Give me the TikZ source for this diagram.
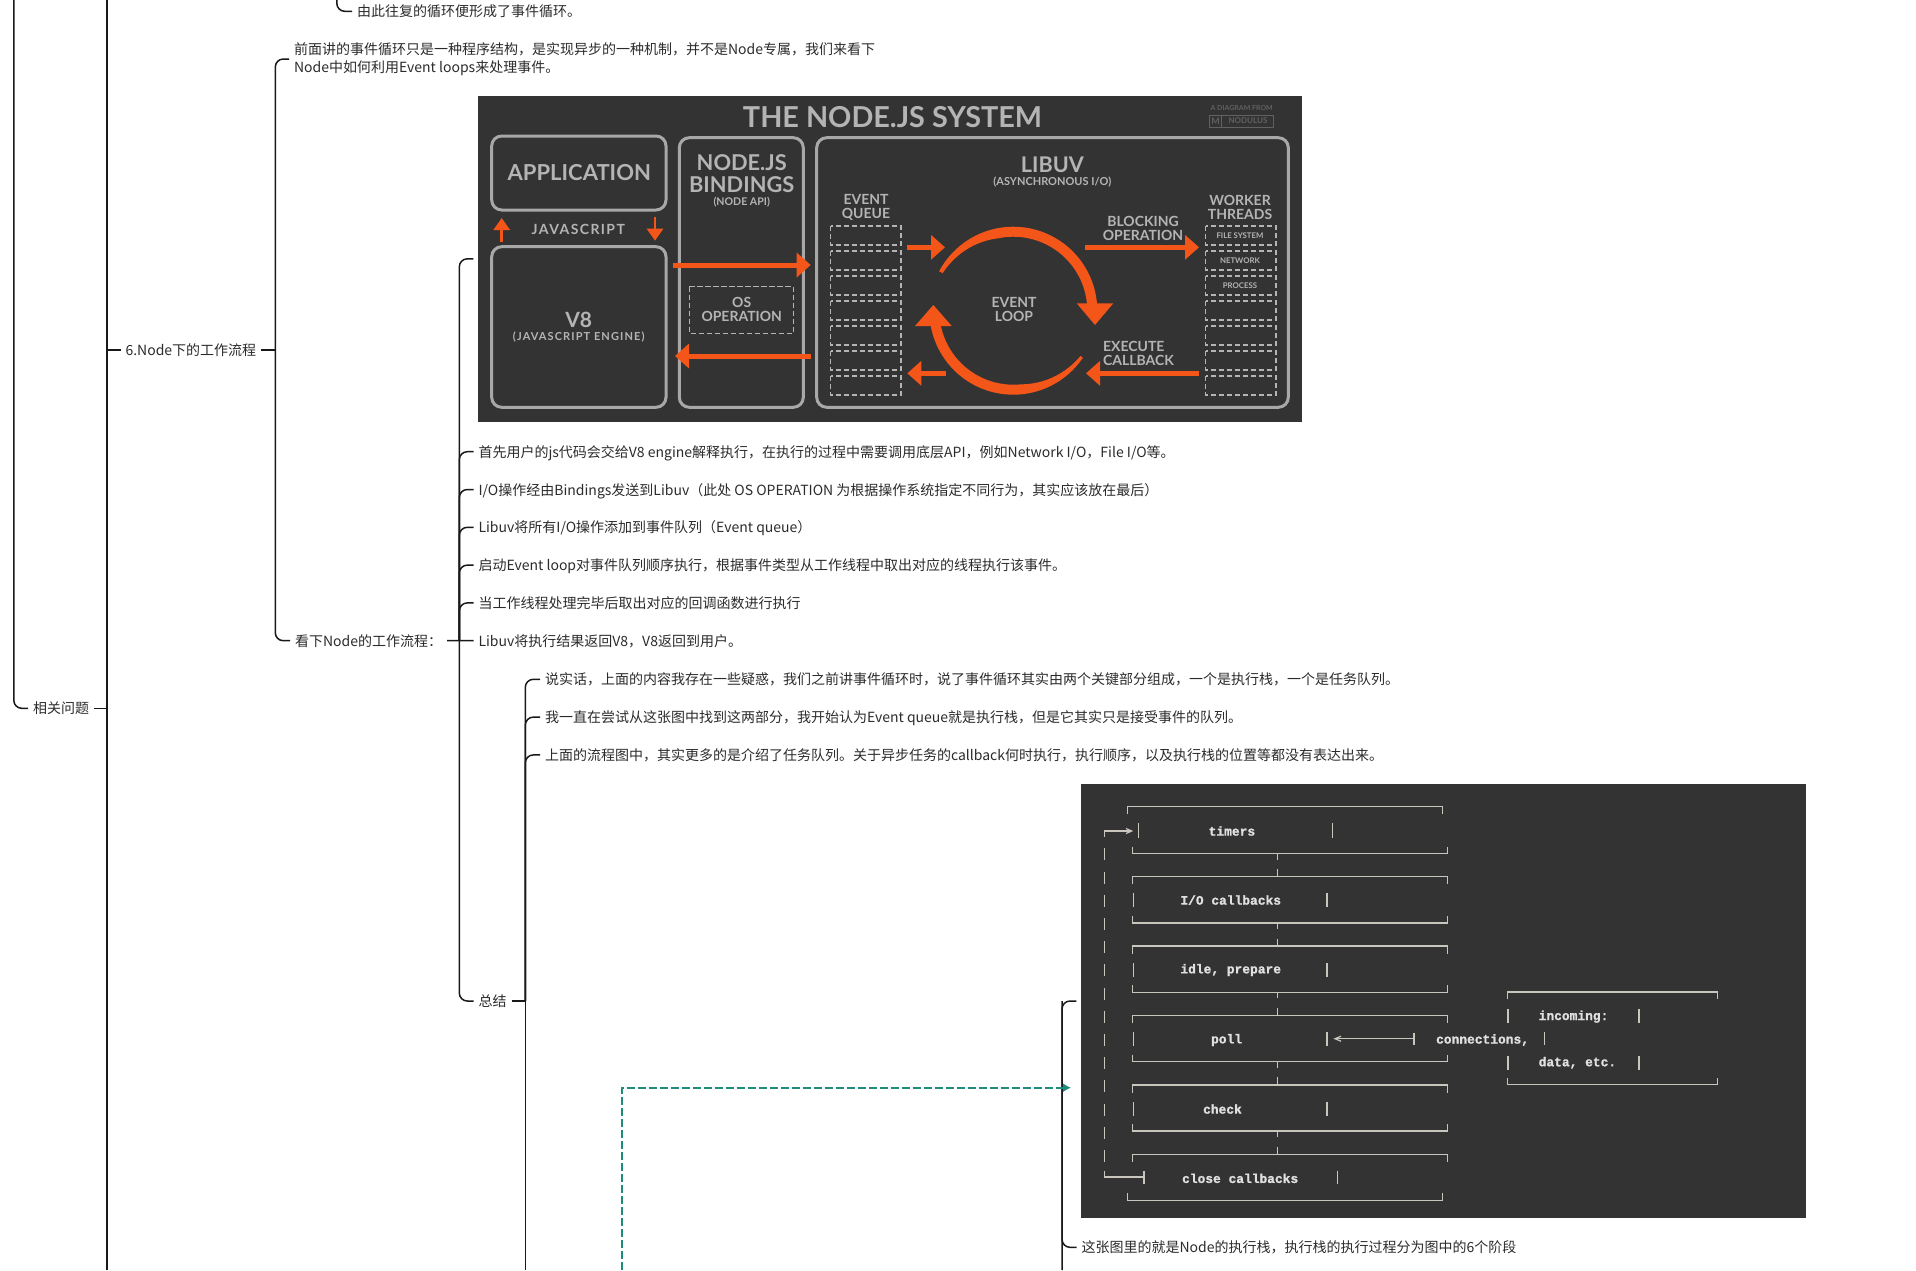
\documentclass[tikz,border=0pt]{standalone}
\usepackage{fontspec}
\setmainfont{Noto Sans CJK SC}
\newfontfamily\sysfont{Lato}[UprightFont=* Bold]
\newfontfamily\syswide{Lato}[UprightFont=* Bold,LetterSpace=10]
\newfontfamily\termfont{Liberation Mono}[UprightFont=* Bold,FakeBold=1.2]
\usetikzlibrary{positioning,arrows.meta}
\definecolor{imgbg}{HTML}{333333}
\definecolor{sysline}{HTML}{A8A8A8}
\definecolor{systext}{HTML}{B4B4B4}
\definecolor{sysorange}{HTML}{F4561A}
\definecolor{termline}{HTML}{C9C7BD}
\definecolor{dashteal}{HTML}{1E8C7B}
\definecolor{inktext}{HTML}{2B2B2B}
\tikzset{
  link/.style={line width=.75pt,draw=black!90,rounded corners=4pt},
  leaf/.style={anchor=west,font=\fontsize{7}{9}\selectfont,text=inktext,inner xsep=0pt,inner ysep=1pt,outer xsep=2.5pt,text height=5.6pt,text depth=0pt},
  para/.style={anchor=west,font=\fontsize{7}{9}\selectfont,text=inktext,inner xsep=0pt,inner ysep=1pt,outer xsep=2.5pt,align=left},
  imgnode/.style={fill=imgbg,inner sep=0pt,outer xsep=2.5pt},
  sysbox/.style={draw=sysline,line width=1.5pt,rounded corners=5pt},
  sysdash/.style={draw=systext,line width=.6pt,dash pattern=on 2.6pt off 1.4pt},
  syscap/.style={text=systext,inner sep=0pt,align=center,font=\sysfont\fontsize{7}{7}\selectfont},
  sysarrow/.style={draw=sysorange,line width=2.5pt,-{Triangle[length=7pt,width=12pt]}},
  smallarrow/.style={draw=sysorange,line width=1.4pt,-{Triangle[length=6pt,width=8pt]}},
  termline/.style={draw=termline,line width=.6pt},
  termtext/.style={anchor=west,text=white!88!black,inner sep=0pt,font=\termfont\fontsize{6.45}{7}\selectfont},
  teallink/.style={draw=dashteal,line width=.9pt,dash pattern=on 4pt off 1.5pt,-{Latex[length=4pt,width=4.5pt]}}
}
\begin{document}
\begin{tikzpicture}[x=.5pt,y=.5pt]
  \useasboundingbox (0,0) rectangle (1916,-1270);

  \coordinate (topa) at (13.8,0);
  \coordinate (topb) at (107,0);
  \coordinate (botb) at (107,-1270);
  \coordinate (topc) at (336.8,0);
  \coordinate (bote) at (525.3,-1270);
  \coordinate (botf) at (1062,-1270);

  \node [leaf] (repeat) at (352,-11.3) {由此往复的循环便形成了事件循环。};
  \node [para] (front) at (289,-59) {前面讲的事件循环只是一种程序结构，是实现异步的一种机制，并不是Node专属，我们来看下\\Node中如何利用Event loops来处理事件。};
  \node [leaf] (n6) at (120.5,-350) {6.Node下的工作流程};
  \node [leaf] (rel) at (28,-708.3) {相关问题};
  \node [leaf] (look) at (290,-640.7) {看下Node的工作流程：};
  \node [imgnode,minimum width=412pt,minimum height=162.8pt] (sysimg) at (890.3,-258.8) {};

  \node [leaf] (b1) at (473.5,-451.7) {首先用户的js代码会交给V8 engine解释执行，在执行的过程中需要调用底层API，例如Network I/O，File I/O等。};
  \node [leaf,below=18.9pt of b1.west,anchor=west] (b2) {I/O操作经由Bindings发送到Libuv（此处 OS OPERATION 为根据操作系统指定不同行为，其实应该放在最后）};
  \node [leaf,below=18.9pt of b2.west,anchor=west] (b3) {Libuv将所有I/O操作添加到事件队列（Event queue）};
  \node [leaf,below=18.9pt of b3.west,anchor=west] (b4) {启动Event loop对事件队列顺序执行，根据事件类型从工作线程中取出对应的线程执行该事件。};
  \node [leaf,below=18.9pt of b4.west,anchor=west] (b5) {当工作线程处理完毕后取出对应的回调函数进行执行};
  \node [leaf,below=18.9pt of b5.west,anchor=west] (b6) {Libuv将执行结果返回V8，V8返回到用户。};
  \node [leaf] (sum) at (473.5,-1001) {总结};

  \node [leaf] (s1) at (540,-679.3) {说实话，上面的内容我存在一些疑惑，我们之前讲事件循环时，说了事件循环其实由两个关键部分组成，一个是执行栈，一个是任务队列。};
  \node [leaf,below=18.9pt of s1.west,anchor=west] (s2) {我一直在尝试从这张图中找到这两部分，我开始认为Event queue就是执行栈，但是它其实只是接受事件的队列。};
  \node [leaf,below=18.9pt of s2.west,anchor=west] (s3) {上面的流程图中，其实更多的是介绍了任务队列。关于异步任务的callback何时执行，执行顺序，以及执行栈的位置等都没有表达出来。};

  \node [imgnode,minimum width=362.2pt,minimum height=216.8pt] (termimg) at (1443.5,-1001) {};
  \node [leaf] (stack) at (1076.5,-1247.3) {这张图里的就是Node的执行栈，执行栈的执行过程分为图中的6个阶段};

  \coordinate (ja) at (13.8,-708.3);
  \coordinate (jn) at (275.3,-350);
  \coordinate (jd) at (459.3,-640.7);
  \coordinate (je) at (525.3,-1001);
  \coordinate (jf) at (1062,-1001);

  \draw [link] (rel.west) -| (topa);
  \draw [link] (topb) -- (botb);
  \draw [link] (rel.east) -- (rel.east -| topb);
  \draw [link] (n6.west) -- (n6.west -| topb);
  \draw [link] (repeat.west) -| (topc);
  \draw [link] (n6.east) -- (jn);
  \draw [link] (front.west) -| (jn);
  \draw [link] (look.west) -| (jn);
  \draw [link] (look.east) -- (b6.west);
  \draw [link] (sysimg.west) -| (jd);
  \draw [link] (sum.west) -| (jd);
  \foreach \n in {b1,b2,b3,b4,b5}
    \draw [link] (\n.west) -| (jd);
  \draw [link] (sum.east) -- (je);
  \draw [link] (je) -- (bote);
  \foreach \n in {s1,s2,s3}
    \draw [link] (\n.west) -| (je);
  \draw [link] (termimg.west) -| (botf);
  \draw [link] (stack.west) -| (jf);
  \coordinate (tealstart) at (622,-1270);
  \coordinate (tealend) at (1071,-1087.7);
  \draw [teallink] (tealstart) |- (tealend);

  % node.js system
  \node [syscap,font=\sysfont\fontsize{14.4}{16}\selectfont] (title) at (892.5,-117) {THE NODE.JS SYSTEM};
  \node [text=black!62,inner sep=0pt,font=\sysfont\fontsize{3.5}{4}\selectfont] (dgm) at (1241.7,-108.3) {A DIAGRAM FROM};
  \node [draw=black!62,line width=.3pt,minimum width=32pt,minimum height=6pt,inner sep=0pt] (nodbox) at (1241.7,-121) {};
  \node [text=black!62,inner sep=0pt,font=\sysfont\fontsize{4}{4}\selectfont] (nodname) at (1248,-121) {NODULUS};
  \node [text=black!62,inner sep=0pt,font=\sysfont\fontsize{4.5}{4}\selectfont] (nodm) at (1215.5,-121) {M};
  \draw [black!62,line width=.3pt] (1221.7,-115) -- (1221.7,-127);
  \draw [sysbox] (491.7,-136) rectangle (666,-210);
  \draw [sysbox] (491.7,-246.7) rectangle (666,-407.3);
  \draw [sysbox] (679.3,-137.7) rectangle (803.3,-407.3);
  \draw [sysbox] (816.7,-137.7) rectangle (1288.3,-407.3);
  \node [syscap,font=\sysfont\fontsize{11}{12}\selectfont] (app) at (579.3,-172.7) {APPLICATION};
  \node [syscap,font=\syswide\fontsize{7}{8}\selectfont] (js) at (578.3,-229) {JAVASCRIPT};
  \node [syscap,font=\sysfont\fontsize{10.5}{11}\selectfont] (v8) at (578.7,-320) {V8};
  \node [syscap,font=\syswide\fontsize{5.5}{7}\selectfont] (v8sub) at (578.7,-336.7) {(JAVASCRIPT ENGINE)};
  \node [syscap,font=\sysfont\fontsize{10.9}{10.7}\selectfont] (bind) at (741.7,-173.7) {NODE.JS\\BINDINGS};
  \node [syscap,font=\sysfont\fontsize{5.3}{6}\selectfont] (bindsub) at (741.7,-201.7) {(NODE API)};
  \node [syscap] (osop) at (741.7,-309.7) {OS\\OPERATION};
  \draw [sysdash] (689.3,-286.7) rectangle (793.3,-333.3);
  \node [syscap,font=\sysfont\fontsize{10.8}{12}\selectfont] (libuv) at (1052.3,-165) {LIBUV};
  \node [syscap,font=\sysfont\fontsize{5.5}{7}\selectfont] (libsub) at (1052.3,-181.7) {(ASYNCHRONOUS I/O)};
  \node [syscap] (evq) at (866,-207) {EVENT\\QUEUE};
  \node [syscap] (wkr) at (1240,-207) {WORKER\\THREADS};
  \node [syscap] (evl) at (1014,-309.7) {EVENT\\LOOP};
  \node [syscap] (blk) at (1143,-228) {BLOCKING\\OPERATION};
  \node [syscap,align=left,anchor=west] (exe) at (1102.7,-353.8) {EXECUTE\\CALLBACK};
  \foreach \y in {226,251,276,301,326,351,376} {
    \draw [sysdash] (830.7,-\y) rectangle (901,-\y-19);
    \draw [sysdash] (1205.7,-\y) rectangle (1276,-\y-19);
  }
  \node [syscap,font=\sysfont\fontsize{3.9}{4}\selectfont] (wfile) at (1240,-235.7) {FILE SYSTEM};
  \node [syscap,font=\sysfont\fontsize{3.9}{4}\selectfont] (wnet) at (1240,-260.7) {NETWORK};
  \node [syscap,font=\sysfont\fontsize{3.9}{4}\selectfont] (wproc) at (1240,-285.7) {PROCESS};
  \draw [smallarrow] (501.7,-241.7) -- (501.7,-218);
  \draw [smallarrow] (655,-216.7) -- (655,-240.7);
  \draw [sysarrow] (673.3,-265) -- (810.7,-265);
  \draw [sysarrow] (810.7,-356) -- (675,-356);
  \draw [sysarrow] (906.7,-247.3) -- (945,-247.3);
  \draw [sysarrow] (946,-373.3) -- (907.3,-373.3);
  \draw [sysarrow] (1085,-247.3) -- (1199,-247.3);
  \draw [sysarrow] (1199,-373.3) -- (1086,-373.3);
  \begin{scope}[shift={(1013.3,-310.7)}]
    \fill [sysorange] plot [domain=152:2,samples=40] ({84*cos(\x)},{84*sin(\x)})
      -- plot [domain=2:152,samples=40] ({(84-min(10,4+6*(152-\x)/50))*cos(\x)},{(84-min(10,4+6*(152-\x)/50))*sin(\x)}) -- cycle;
    \fill [sysorange] plot [domain=-34:-178,samples=40] ({84*cos(\x)},{84*sin(\x)})
      -- plot [domain=-178:-34,samples=40] ({(84-min(10,3+7*(-34-\x)/50))*cos(\x)},{(84-min(10,3+7*(-34-\x)/50))*sin(\x)}) -- cycle;
  \end{scope}
  \fill [sysorange] (1076.7,-303.3) -- (1113.3,-303.3) -- (1095,-325) -- cycle;
  \fill [sysorange] (915,-326) -- (951.7,-326) -- (933.3,-305) -- cycle;

  % terminal picture
  \foreach \y in {876.7,946,1015.7,1085,1154.3}
    \draw [termline] (1132.7,-\y-7.5) -- (1132.7,-\y) -- (1447.7,-\y) -- (1447.7,-\y-7.5);
  \foreach \y in {853.7,923,992.3,1061.7,1131} {
    \draw [termline] (1132.7,-\y+7) -- (1132.7,-\y) -- (1447.7,-\y) -- (1447.7,-\y+7);
    \draw [termline] (1277.3,-\y) -- (1277.3,-\y-6);
    \draw [termline] (1277.3,-\y-15.5) -- (1277.3,-\y-23);
  }
  \draw [termline] (1127.7,-814) -- (1127.7,-806.7) -- (1442.7,-806.7) -- (1442.7,-814);
  \draw [termline] (1127.7,-1193.3) -- (1127.7,-1200.7) -- (1442.7,-1200.7) -- (1442.7,-1193.3);
  \foreach \y in {900,970,1039,1109} {
    \draw [termline] (1133.3,-\y+7) -- (1133.3,-\y-7);
    \draw [termline] (1327,-\y+7) -- (1327,-\y-7);
  }
  \draw [termline] (1138.3,-823.3) -- (1138.3,-838.3);
  \draw [termline] (1332.3,-823.3) -- (1332.3,-838.3);
  \draw [termline] (1144,-1170.5) -- (1144,-1184);
  \draw [termline] (1337.7,-1170.5) -- (1337.7,-1184);
  \foreach \i in {0,...,13}
    \draw [termline] (1104.7,-848.3-23.2*\i) -- (1104.7,-860.3-23.2*\i);
  \draw [termline] (1104.7,-836.7) -- (1104.7,-831) -- (1130,-831);
  \draw [termline] (1126,-828.5) -- (1131.7,-831) -- (1126,-833.5);
  \draw [termline] (1104.7,-1170.7) -- (1104.7,-1177) -- (1144,-1177);
  \draw [termline] (1335,-1038.7) -- (1414,-1038.7);
  \draw [termline] (1341,-1036.2) -- (1335,-1038.7) -- (1341,-1041.2);
  \draw [termline] (1414,-1032.7) -- (1414,-1045);
  \draw [termline] (1507.3,-999.3) -- (1507.3,-992) -- (1717.7,-992) -- (1717.7,-999.3);
  \draw [termline] (1507.3,-1077.7) -- (1507.3,-1084.7) -- (1717.7,-1084.7) -- (1717.7,-1077.7);
  \foreach \x in {1508,1639} {
    \draw [termline] (\x,-1009.3) -- (\x,-1023.3);
    \draw [termline] (\x,-1056) -- (\x,-1070);
  }
  \draw [termline] (1544.7,-1032.3) -- (1544.7,-1045);
  \node [termtext] (ttimers) at (1208.3,-831) {timers};
  \node [termtext] (tio) at (1180,-900) {I/O callbacks};
  \node [termtext] (tidle) at (1180,-970) {idle, prepare};
  \node [termtext] (tpoll) at (1210.7,-1040) {poll};
  \node [termtext] (tcheck) at (1202.7,-1109) {check};
  \node [termtext] (tclose) at (1181.7,-1178.3) {close callbacks};
  \node [termtext] (tconn) at (1435.7,-1040) {connections,};
  \node [termtext] (tinc) at (1538.3,-1016.7) {incoming:};
  \node [termtext] (tdata) at (1538.3,-1062.7) {data, etc.};
\end{tikzpicture}
\end{document}
